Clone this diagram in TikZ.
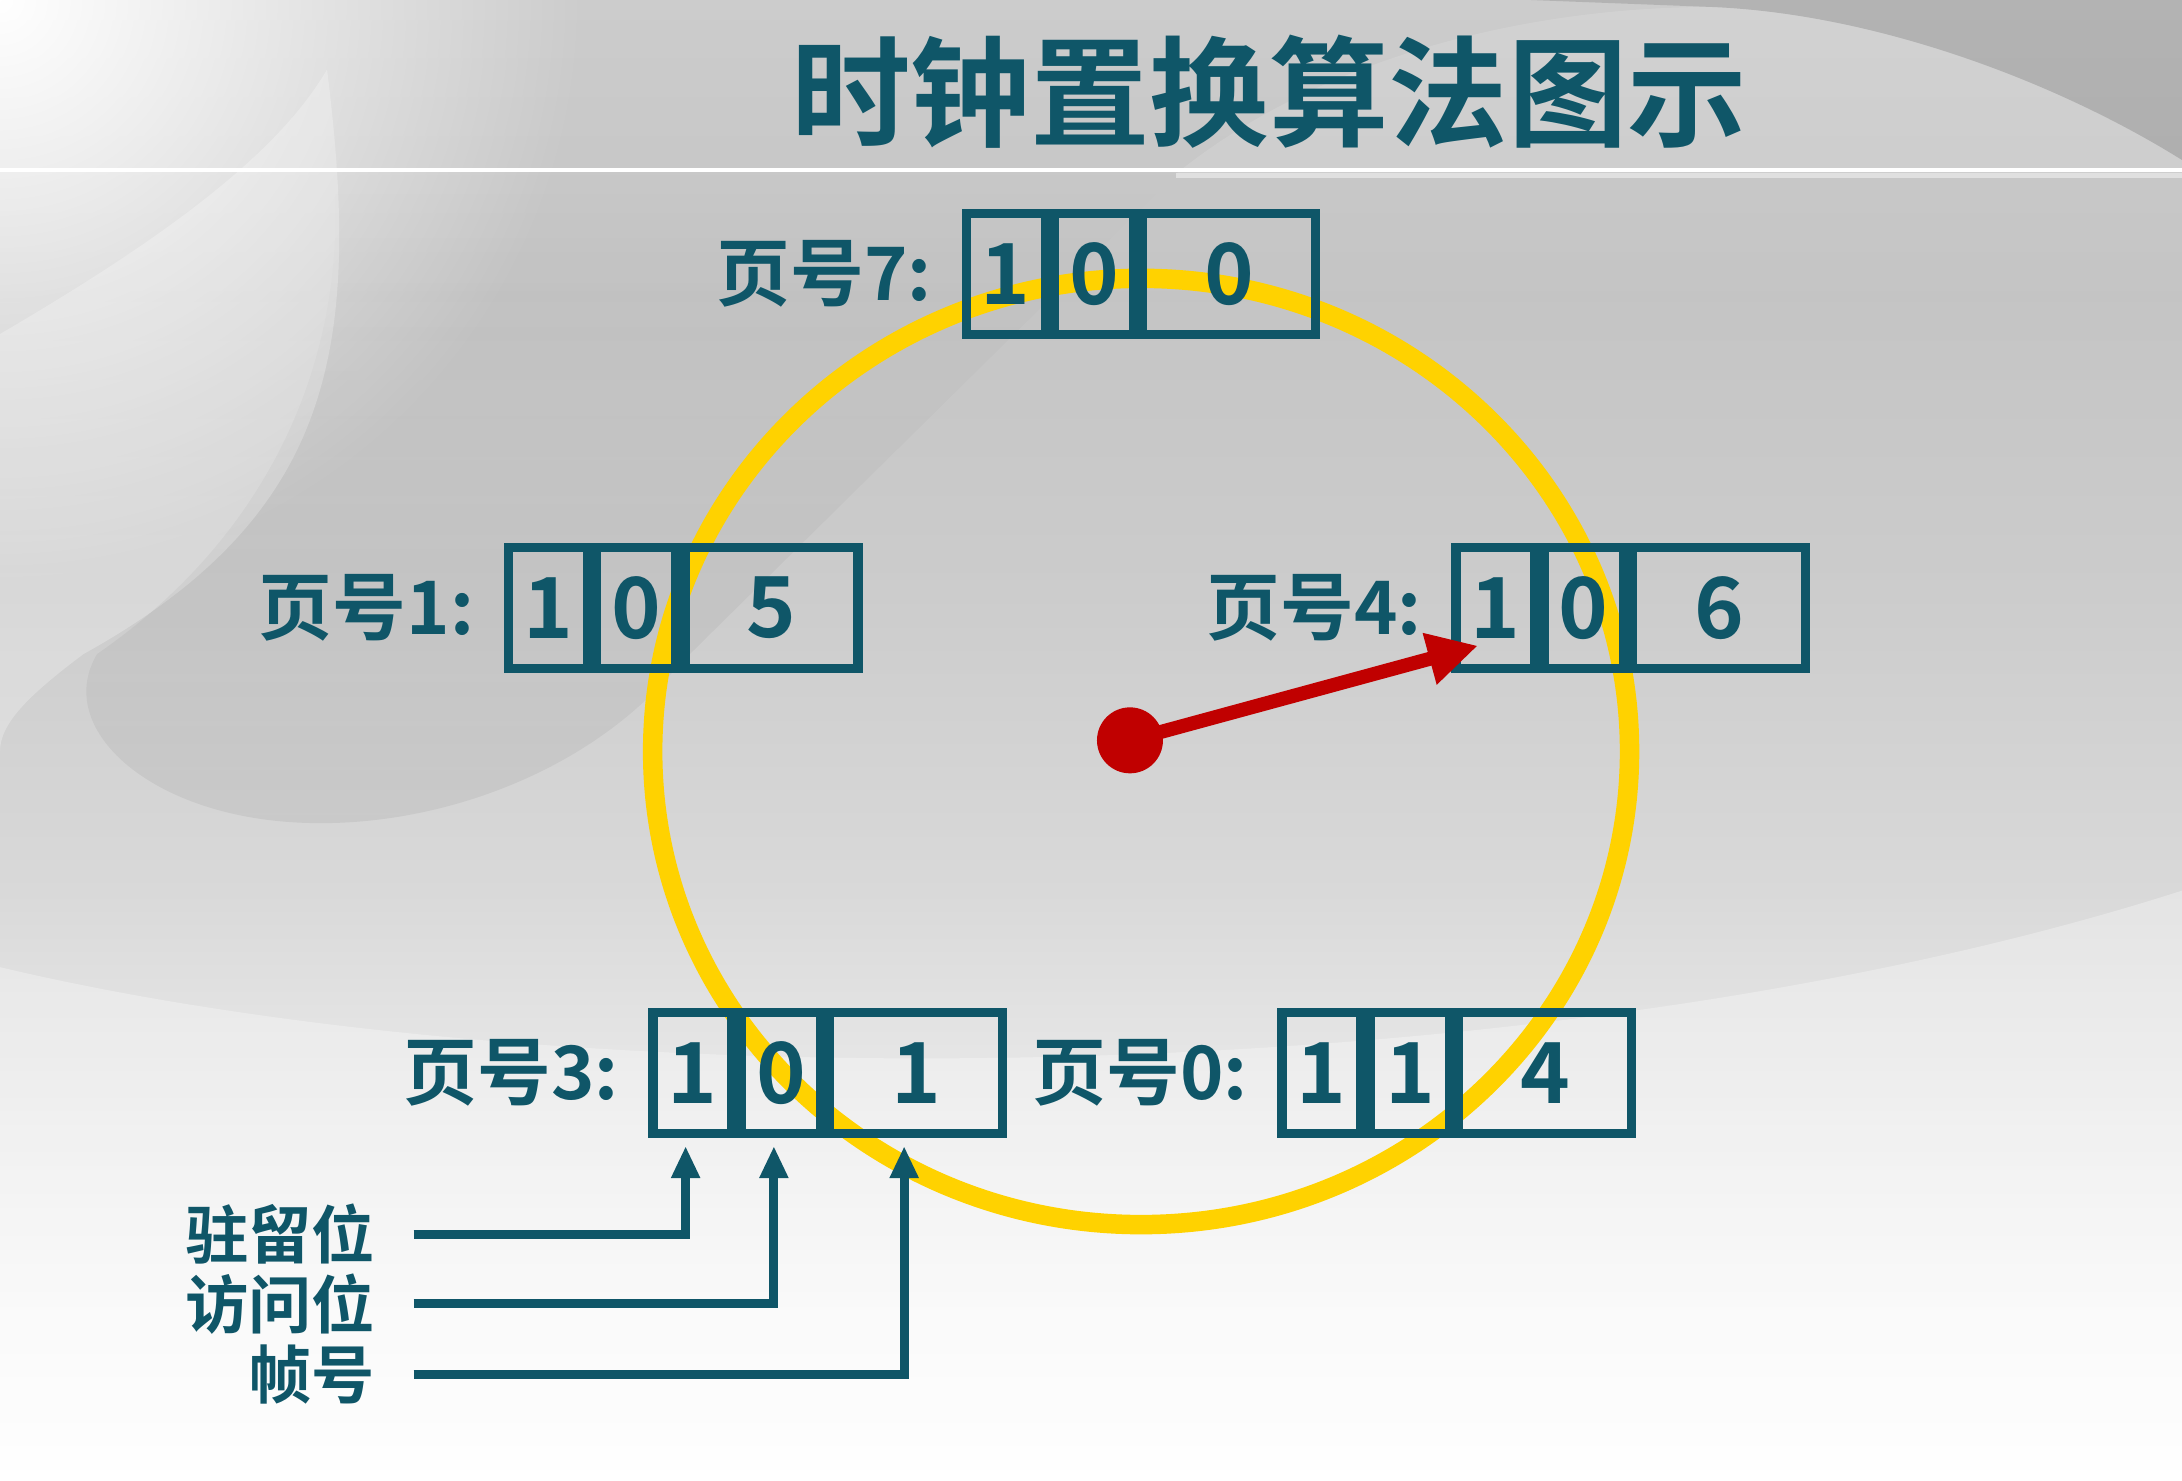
\documentclass[tikz,border=0pt]{standalone}
\usepackage{fontspec}
\newfontfamily\hei{Noto Sans CJK SC Bold}
\usetikzlibrary{positioning,arrows.meta,fadings}

\definecolor{slate}{RGB}{15,86,104}
\definecolor{gold}{RGB}{255,210,0}
\definecolor{handred}{RGB}{192,0,0}

\pgfdeclareverticalshading{slidebg}{100bp}{color(0bp)=(white); color(25bp)=(white); color(31bp)=(white!97!black); color(37bp)=(white!92!black); color(45bp)=(white!85!black); color(55bp)=(white!80!black); color(65bp)=(white!77!black); color(75bp)=(white!80!black); color(100bp)=(white!80!black)}
\tikzfading[name=glow, inner color=transparent!0, outer color=transparent!100]

\tikzset{
  cell/.style={draw=slate, line width=0.93mm, minimum width=7.9mm, minimum height=12.1mm,
    inner sep=0pt, text=slate, font=\hei\fontsize{24}{24}\selectfont},
  widecell/.style={cell, minimum width=17.3mm},
  pagelbl/.style={inner sep=0pt, text=slate, font=\hei\fontsize{21}{21}\selectfont},
  bitlbl/.style={inner sep=0pt, text=slate, font=\hei\fontsize{18}{18}\selectfont},
  lead/.style={draw=slate, line width=0.9mm, -{Triangle[length=3.2mm,width=2.7mm]}, shorten >=0.8mm}
}

\begin{document}
\begin{tikzpicture}[x=0.1392mm,y=-0.1392mm]
    % slide size
    \useasboundingbox (0,0) rectangle (1568,1064);

    %Background
    \shade[shading=slidebg] (0,0) rectangle (1568,1064);
    \fill[white, path fading=glow] (0,0) circle (420);
    \fill[white, opacity=0.25] (0,240) .. controls (120,170) and (200,110) .. (235,50)
        .. controls (260,250) and (240,370) .. (60,470) .. controls (20,500) and (0,520) .. (0,540) -- cycle;
    \fill[black, opacity=0.06, path fading=north] (240,124) -- (847,124) -- (487,479)
        .. controls (420,560) and (300,600) .. (200,590) .. controls (100,580) and (40,520) .. (70,470)
        .. controls (200,380) and (250,250) .. (240,124) -- cycle;
    \fill[white, opacity=0.12] (845,125) .. controls (950,40) and (1100,5) .. (1230,5)
        .. controls (1350,10) and (1480,60) .. (1568,115) -- (1568,125) -- cycle;
    \fill[black, opacity=0.12] (1230,5) .. controls (1350,10) and (1480,60) .. (1568,115) -- (1568,0) -- (1100,0) -- cycle;
    \fill[white, opacity=0.3] (0,695) .. controls (400,790) and (1100,790) .. (1568,640) -- (1568,1064) -- (0,1064) -- cycle;
    \draw[white, line width=0.45mm] (0,122) -- (1568,122);
    \draw[white!88!black, line width=0.5mm] (845,126) -- (1568,126);

    %Title
    \node[text=slate, font=\hei\fontsize{34}{34}\selectfont] (title) at (912,66) {时钟置换算法图示};

    %Clock face
    \draw[gold, line width=1.95mm] (820,540) ellipse (351 and 340);

    %Page 7
    \node[cell, anchor=west] (p7a) at (691,197) {1};
    \node[cell, right=0pt of p7a] (p7b) {0};
    \node[widecell, right=0pt of p7b] (p7c) {0};
    \node[pagelbl, left=2.9mm of p7a] (l7) {页号7:};

    %Page 1
    \node[cell, anchor=west] (p1a) at (362,437) {1};
    \node[cell, right=0pt of p1a] (p1b) {0};
    \node[widecell, right=0pt of p1b] (p1c) {5};
    \node[pagelbl, left=2.9mm of p1a] (l1) {页号1:};

    %Page 4
    \node[cell, anchor=west] (p4a) at (1043,437) {1};
    \node[cell, right=0pt of p4a] (p4b) {0};
    \node[widecell, right=0pt of p4b] (p4c) {6};
    \node[pagelbl, left=2.9mm of p4a] (l4) {页号4:};

    %Page 3
    \node[cell, anchor=west] (p3a) at (466,771) {1};
    \node[cell, right=0pt of p3a] (p3b) {0};
    \node[widecell, right=0pt of p3b] (p3c) {1};
    \node[pagelbl, left=2.9mm of p3a] (l3) {页号3:};

    %Page 0
    \node[cell, anchor=west] (p0a) at (918,771) {1};
    \node[cell, right=0pt of p0a] (p0b) {1};
    \node[widecell, right=0pt of p0b] (p0c) {4};
    \node[pagelbl, left=2.9mm of p0a] (l0) {页号0:};

    %Hand
    \node[circle, fill=handred, minimum size=6.6mm, inner sep=0pt] (hub) at (812,532) {};
    \coordinate (tip) at (1062,464);
    \draw[handred, line width=1.4mm, -{Triangle[length=5mm,width=5mm]}] (hub.center) -- (tip);

    %Bit names
    \node[bitlbl, anchor=east] (res) at (270,887) {驻留位};
    \node[bitlbl, anchor=east] (acc) at (270,937) {访问位};
    \node[bitlbl, anchor=east] (frm) at (270,988) {帧号};

    \draw[lead] ([xshift=3.8mm]res.east) -| ([xshift=-0.7mm]p3a.south);
    \draw[lead] ([xshift=3.8mm]acc.east) -| ([xshift=-0.7mm]p3b.south);
    \draw[lead] ([xshift=3.8mm]frm.east) -| ([xshift=-1.2mm]p3c.south);
\end{tikzpicture}
\end{document}
